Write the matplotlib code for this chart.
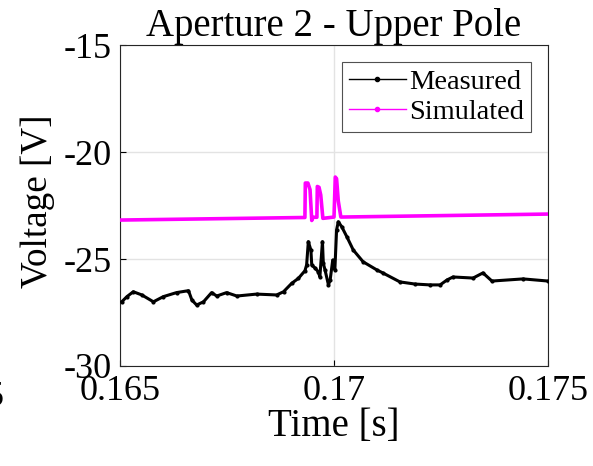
import matplotlib
matplotlib.use("Agg")
import matplotlib.pyplot as plt
from matplotlib.lines import Line2D

plt.rcParams["font.family"] = ["Liberation Serif", "DejaVu Serif"]
plt.rcParams["axes.unicode_minus"] = False

# measured voltage
t_meas = [0.16504, 0.16516, 0.16531, 0.16551, 0.16578, 0.16601, 0.16632, 0.16660,
          0.16668, 0.16679, 0.16695, 0.16714, 0.16726, 0.16749, 0.16773, 0.16819,
          0.16866, 0.16882, 0.16901, 0.16917, 0.16932, 0.16936, 0.16940, 0.16946,
          0.16948, 0.16956, 0.16963, 0.16967, 0.16973, 0.16975, 0.16979, 0.16987,
          0.16991, 0.16997, 0.17002, 0.17006, 0.17010, 0.17018, 0.17030, 0.17045,
          0.17068, 0.17100, 0.17114, 0.17154, 0.17189, 0.17224, 0.17248, 0.17264,
          0.17278, 0.17325, 0.17348, 0.17369, 0.17442, 0.17500]
v_meas = [-27.00, -26.76, -26.53, -26.68, -27.00, -26.76, -26.57, -26.48,
          -26.92, -27.15, -27.00, -26.57, -26.73, -26.57, -26.73, -26.64,
          -26.68, -26.53, -26.14, -25.90, -25.55, -25.28, -24.19, -24.58,
          -25.28, -25.43, -25.59, -25.83, -24.19, -25.20, -25.51, -26.21,
          -25.98, -25.05, -25.51, -23.64, -23.26, -23.49, -23.96, -24.58,
          -25.13, -25.51, -25.65, -26.07, -26.17, -26.21, -26.21, -25.98,
          -25.84, -25.89, -25.65, -26.03, -25.93, -26.03]

# simulated voltage
t_sim = [0.16500, 0.16932, 0.16933, 0.16939, 0.16944, 0.16948, 0.16951, 0.16960,
         0.16961, 0.16965, 0.16969, 0.16974, 0.17000, 0.17003, 0.17006, 0.17010,
         0.17016, 0.17500]
v_sim = [-23.18, -23.06, -21.45, -21.45, -21.76, -23.20, -23.05, -23.05,
         -21.61, -21.65, -22.01, -23.10, -23.04, -21.17, -21.25, -22.29,
         -23.04, -22.90]

x_ticks = [0.165, 0.17, 0.175]
x_labels = ["0.165", "0.17", "0.175"]
y_ticks = [-30, -25, -20, -15]

fig = plt.figure(figsize=(5.93, 4.66), dpi=100)
ax = fig.add_axes([0.2024, 0.2146, 0.7217, 0.6888])

ax.plot(t_meas, v_meas, "-", color="black", marker=".", markersize=4,
        linewidth=2.2, label="Measured", zorder=3)
ax.plot(t_sim, v_sim, "-", color="#ff00ff", linewidth=2.6, label="Simulated", zorder=3)

ax.set_xlim(0.165, 0.175)
ax.set_ylim(-30, -15)
ax.set_xticks(x_ticks)
ax.set_xticklabels(x_labels)
ax.set_yticks(y_ticks)
ax.grid(True, color="#e3e3e3", linewidth=1.0, zorder=0)
ax.set_axisbelow(True)
ax.tick_params(direction="in", labelsize=26, length=4, pad=6)
ax.tick_params(axis="x", pad=6.5)
for s in ax.spines.values():
    s.set_color("#262626")
    s.set_linewidth(0.8)

ax.set_title("Aperture 2 - Upper Pole", fontsize=28, pad=3)
ax.set_xlabel("Time [s]", fontsize=28, labelpad=0)
ax.set_ylabel("Voltage [V]", fontsize=26.7)
ax.yaxis.set_label_coords(-0.152, 0.514)

# legend handles: a line with one dot in the middle, like the source
handles = [Line2D([], [], color="black", marker=".", markersize=6, linewidth=1.0),
           Line2D([], [], color="#ff00ff", marker=".", markersize=6, linewidth=1.0)]
leg = ax.legend(handles, ["Measured", "Simulated"], loc="upper right", fontsize=20.5,
                numpoints=1, frameon=True, fancybox=False, handlelength=2.0,
                handletextpad=0.1, borderpad=0.25, labelspacing=0.15, borderaxespad=0.6)
leg.get_frame().set_edgecolor("#262626")
leg.get_frame().set_linewidth(0.8)

# clipped fragment from the neighbouring panel
fig.text(0.006, 0.148, "5", fontsize=26, ha="right", va="center")

fig.savefig("out.png", dpi=100)
